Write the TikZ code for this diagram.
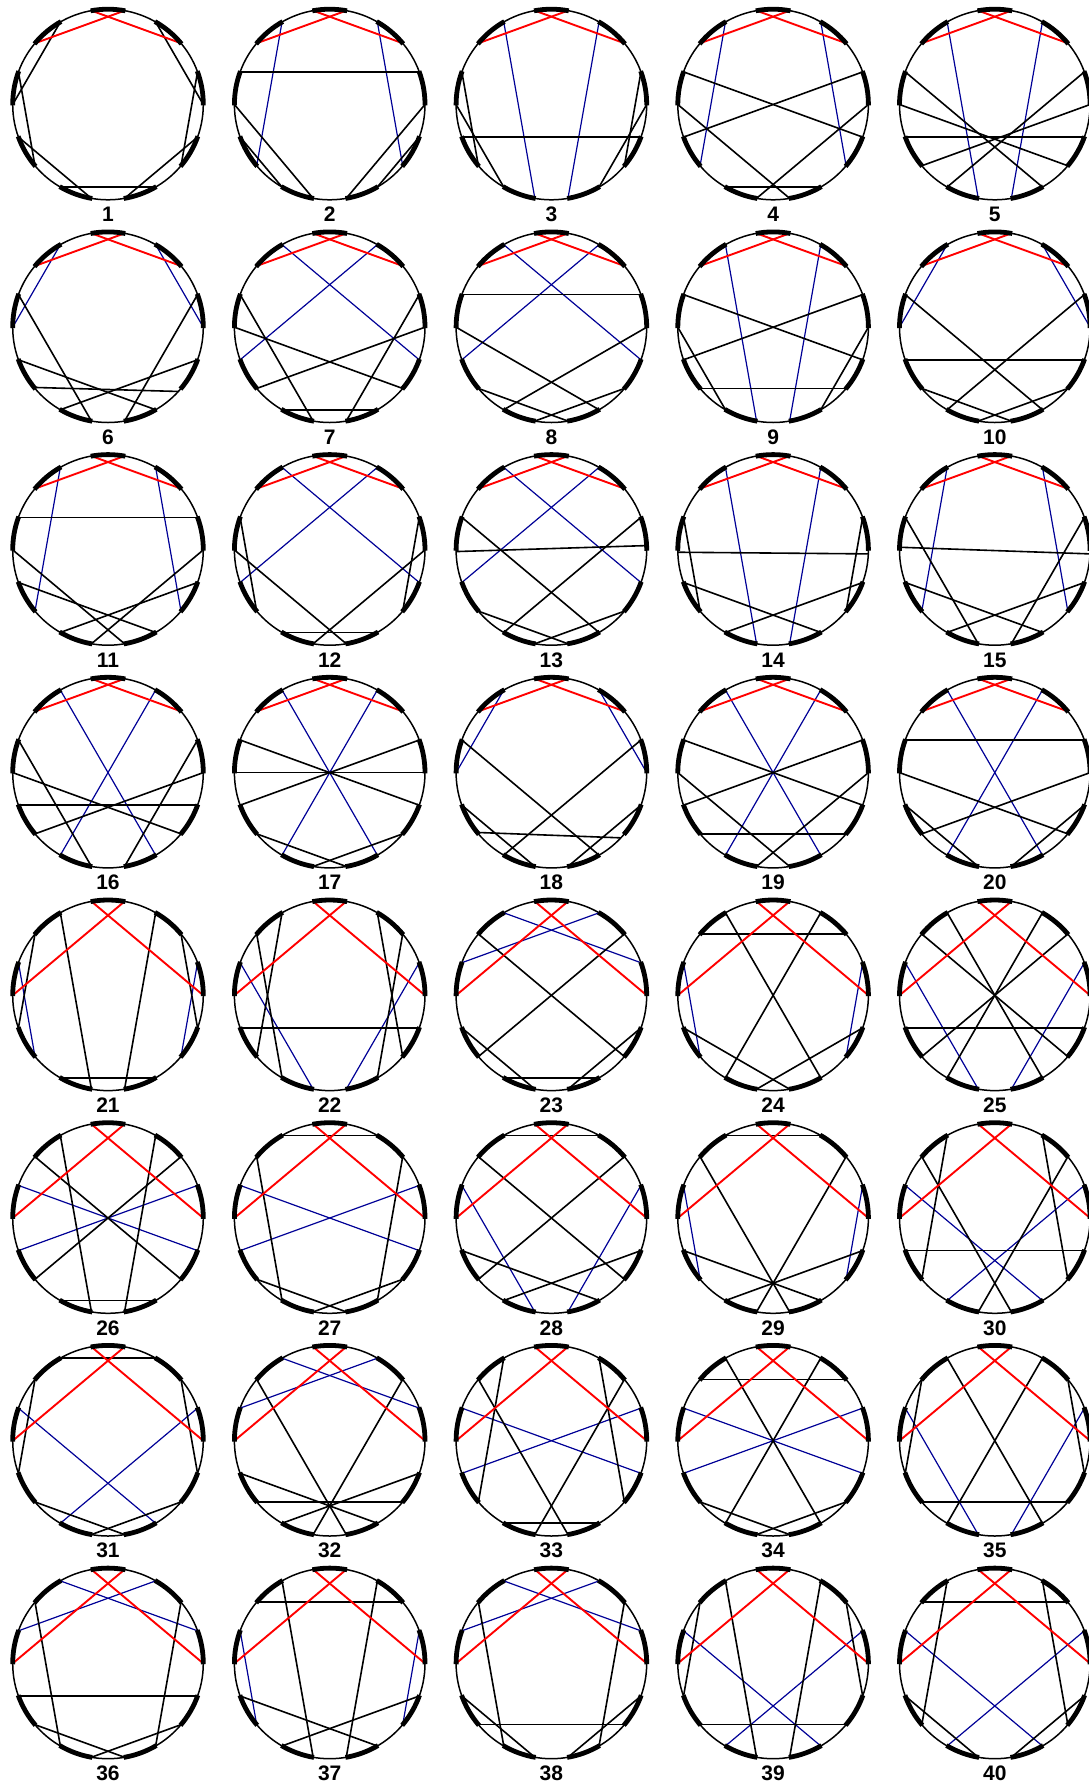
\documentclass[tikz,border=0pt]{standalone}
\usepackage{fontspec}
\setmainfont{Liberation Sans}
\definecolor{chordblue}{RGB}{0,0,150}
\def\RA{5/2/r,4/7/r}
\def\RB{5/0/r,4/9/r}
\newcommand\chdiag[5]{% #1 id, #2 col, #3 row, #4 red chords, #5 other chords
 \begin{scope}[shift={({108+221.7*#2},{-104.5-222.7*#3})}]
  \foreach \i in {0,...,17} \coordinate (d#1-\i) at ({20*\i}:95.3);
  \draw[circ] (0,0) circle[radius=95.3];
  \foreach \a/\b/\c in {#5} \draw[ch\c] (d#1-\a) -- (d#1-\b);
  \foreach \a/\b/\c in #4 \draw[ch\c] (d#1-\a) -- (d#1-\b);
  \foreach \t in {90,130,...,410} \draw[tarc] ({\t-10.5}:95.3) arc[start angle={\t-10.5}, end angle={\t+10.5}, radius=95.3];
  \node[lbl] (n#1) at (0,-110) {#1};
 \end{scope}}
\newcommand\angchord[5]{% #1 id, #2 col, #3 row, #4 angle a, #5 angle b
 \begin{scope}[shift={({108+221.7*#2},{-104.5-222.7*#3})}]
  \coordinate (d#1-ua) at (#4:95.3);
  \coordinate (d#1-ub) at (#5:95.3);
  \draw[chk] (d#1-ua) -- (d#1-ub);
 \end{scope}}
\begin{document}
\begin{tikzpicture}[x=0.5pt,y=0.5pt,
  circ/.style={line width=0.75pt},
  tarc/.style={line width=2.4pt},
  chk/.style={line width=0.8pt, black},
  chb/.style={line width=0.6pt, chordblue},
  chr/.style={line width=0.95pt, red},
  lbl/.style={font=\bfseries\fontsize{10.5}{12}\selectfont, inner sep=0pt}]
\useasboundingbox (0,0) rectangle (1088,-1789);
\chdiag{1}{0}{0}{\RA}{6/9/k, 8/11/k, 10/13/k, 12/15/k, 14/17/k, 16/1/k, 0/3/k}
\chdiag{2}{1}{0}{\RA}{6/11/b, 3/16/b, 8/1/k, 9/13/k, 10/12/k, 0/14/k, 17/15/k}
\chdiag{3}{2}{0}{\RA}{6/13/b, 3/14/b, 10/17/k, 8/11/k, 9/12/k, 1/16/k, 0/15/k}
\chdiag{4}{3}{0}{\RA}{6/11/b, 3/16/b, 8/17/k, 1/10/k, 9/14/k, 0/13/k, 12/15/k}
\chdiag{5}{4}{0}{\RA}{6/13/b, 3/14/b, 8/15/k, 9/16/k, 10/17/k, 11/0/k, 12/1/k}
\chdiag{6}{0}{1}{\RA}{6/9/b, 3/0/b, 8/13/k, 1/14/k, 10/15/k, 17/12/k}
\angchord{6}{0}{1}{219.2}{317.6}
\chdiag{7}{1}{1}{\RA}{6/17/b, 3/10/b, 8/13/k, 9/16/k, 0/11/k, 1/14/k, 12/15/k}
\chdiag{8}{2}{1}{\RA}{6/17/b, 3/10/b, 8/1/k, 9/15/k, 0/12/k, 11/14/k, 16/13/k}
\chdiag{9}{3}{1}{\RA}{6/13/b, 3/14/b, 8/17/k, 1/10/k, 11/16/k, 9/12/k, 0/15/k}
\chdiag{10}{4}{1}{\RA}{6/9/b, 3/0/b, 8/15/k, 1/12/k, 10/17/k, 11/14/k, 16/13/k}
\chdiag{11}{0}{2}{\RA}{6/11/b, 3/16/b, 8/1/k, 9/14/k, 0/13/k, 10/15/k, 17/12/k}
\chdiag{12}{1}{2}{\RA}{6/17/b, 3/10/b, 8/11/k, 9/14/k, 0/13/k, 1/16/k, 12/15/k}
\chdiag{13}{2}{2}{\RA}{6/17/b, 3/10/b, 8/15/k, 1/12/k, 11/14/k, 16/13/k}
\angchord{13}{2}{2}{181}{2.6}
\chdiag{14}{3}{2}{\RA}{6/13/b, 3/14/b, 8/11/k, 1/16/k, 10/15/k, 17/12/k}
\angchord{14}{3}{2}{181.4}{357.6}
\chdiag{15}{4}{2}{\RA}{6/11/b, 3/16/b, 8/13/k, 1/14/k, 10/15/k, 17/12/k}
\angchord{15}{4}{2}{178.4}{357.6}
\chdiag{16}{0}{3}{\RA}{6/15/b, 3/12/b, 8/13/k, 0/11/k, 9/16/k, 10/17/k, 1/14/k}
\chdiag{17}{1}{3}{\RA}{6/15/b, 3/12/b, 8/17/k, 1/10/k, 9/0/k, 11/14/k, 16/13/k}
\chdiag{18}{2}{3}{\RA}{6/9/b, 3/0/b, 8/15/k, 1/12/k, 10/13/k, 17/14/k}
\angchord{18}{2}{3}{218.9}{316.8}
\chdiag{19}{3}{3}{\RA}{6/15/b, 3/12/b, 8/17/k, 1/10/k, 9/14/k, 0/13/k, 11/16/k}
\chdiag{20}{4}{3}{\RA}{6/15/b, 3/12/b, 8/1/k, 9/16/k, 0/11/k, 10/13/k, 17/14/k}
\chdiag{21}{0}{4}{\RB}{8/11/b, 1/16/b, 6/13/k, 3/14/k, 7/10/k, 2/17/k, 12/15/k}
\chdiag{22}{1}{4}{\RB}{8/13/b, 1/14/b, 10/17/k, 6/11/k, 7/12/k, 3/16/k, 2/15/k}
\chdiag{23}{2}{4}{\RB}{6/1/b, 3/8/b, 7/16/k, 2/11/k, 10/13/k, 17/14/k, 12/15/k}
\chdiag{24}{3}{4}{\RB}{7/2/k, 8/11/b, 1/16/b, 6/15/k, 3/12/k, 10/14/k, 17/13/k}
\chdiag{25}{4}{4}{\RB}{8/13/b, 1/14/b, 10/17/k, 6/15/k, 3/12/k, 7/16/k, 2/11/k}
\chdiag{26}{0}{5}{\RB}{8/17/b, 1/10/b, 12/15/k, 6/13/k, 3/14/k, 7/16/k, 2/11/k}
\chdiag{27}{1}{5}{\RB}{6/3/k, 8/17/b, 1/10/b, 7/12/k, 2/15/k, 11/14/k, 16/13/k}
\chdiag{28}{2}{5}{\RB}{6/3/k, 8/13/b, 1/14/b, 7/16/k, 2/11/k, 10/15/k, 17/12/k}
\chdiag{29}{3}{5}{\RB}{6/3/k, 8/11/b, 1/16/b, 7/14/k, 2/13/k, 10/15/k, 17/12/k}
\chdiag{30}{4}{5}{\RB}{8/15/b, 1/12/b, 10/17/k, 6/11/k, 7/14/k, 2/13/k, 3/16/k}
\chdiag{31}{0}{6}{\RB}{6/3/k, 8/15/b, 1/12/b, 7/10/k, 2/17/k, 11/14/k, 16/13/k}
\chdiag{32}{1}{6}{\RB}{6/1/b, 3/8/b, 7/14/k, 2/13/k, 10/15/k, 17/12/k, 11/16/k}
\chdiag{33}{2}{6}{\RB}{8/17/b, 1/10/b, 12/15/k, 7/14/k, 2/13/k, 6/11/k, 3/16/k}
\chdiag{34}{3}{6}{\RB}{7/2/k, 8/17/b, 1/10/b, 6/15/k, 3/12/k, 11/14/k, 16/13/k}
\chdiag{35}{4}{6}{\RB}{8/13/b, 1/14/b, 11/16/k, 6/15/k, 3/12/k, 7/10/k, 2/17/k}
\chdiag{36}{0}{7}{\RB}{6/1/b, 3/8/b, 10/17/k, 7/12/k, 2/15/k, 11/14/k, 16/13/k}
\chdiag{37}{1}{7}{\RB}{7/2/k, 8/11/b, 1/16/b, 6/13/k, 3/14/k, 10/15/k, 17/12/k}
\chdiag{38}{2}{7}{\RB}{6/1/b, 3/8/b, 11/16/k, 7/12/k, 2/15/k, 10/13/k, 17/14/k}
\chdiag{39}{3}{7}{\RB}{8/15/b, 1/12/b, 11/16/k, 6/13/k, 3/14/k, 7/10/k, 2/17/k}
\chdiag{40}{4}{7}{\RB}{7/2/k, 8/15/b, 1/12/b, 10/13/k, 17/14/k, 6/11/k, 3/16/k}
\end{tikzpicture}
\end{document}
